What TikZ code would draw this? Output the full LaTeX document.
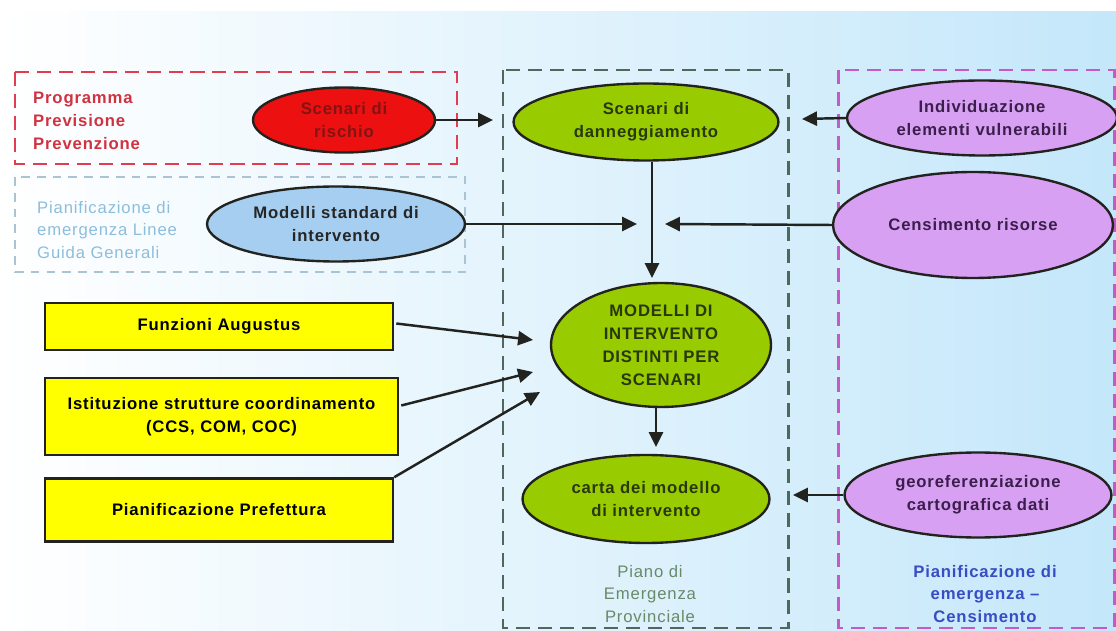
\documentclass[tikz,border=0pt]{standalone}
\usepackage{fontspec}
\setmainfont{Liberation Sans}[LetterSpace=5]
\usetikzlibrary{shapes.geometric,arrows.meta,calc}

\definecolor{bgblue}{RGB}{196,231,250}
\definecolor{redline}{RGB}{226,60,80}
\definecolor{redtext}{RGB}{208,50,64}
\definecolor{redfill}{RGB}{236,16,16}
\definecolor{redink}{RGB}{130,20,20}
\definecolor{paleline}{RGB}{170,196,212}
\definecolor{paletext}{RGB}{140,190,220}
\definecolor{skyfill}{RGB}{166,206,240}
\definecolor{greenline}{RGB}{80,104,92}
\definecolor{leaf}{RGB}{153,204,0}
\definecolor{leafink}{RGB}{40,56,10}
\definecolor{greytext}{RGB}{104,138,104}
\definecolor{violetline}{RGB}{196,90,200}
\definecolor{lilac}{RGB}{216,160,242}
\definecolor{lilacink}{RGB}{58,30,76}
\definecolor{bluetext}{RGB}{56,76,196}
\definecolor{lemon}{RGB}{255,255,0}
\definecolor{edge}{RGB}{34,34,30}

\begin{document}
\begin{tikzpicture}[x=0.02cm,y=-0.02cm,
  font=\bfseries\fontsize{9.5}{13}\selectfont,
  oval/.style={ellipse,draw=edge,line width=1.35pt,inner sep=0pt,align=center},
  panel/.style={rectangle,draw=edge,fill=lemon,line width=1.5pt,inner sep=0pt,align=center},
  framebox/.style={line width=1.7pt,dash pattern=on 8pt off 4.5pt},
  thinframe/.style={line width=0.9pt,dash pattern=on 5pt off 4pt},
  link/.style={draw=edge,line width=1.4pt,-{Triangle[length=8.5pt,width=8pt]}}]

\useasboundingbox (0,0) rectangle (1116,631);

% background wash
\fill[white] (0,0) rectangle (1116,631);
\shade[left color=white,right color=bgblue] (0,12) rectangle (1116,631);

% group frames
\draw[framebox,draw=redline] (15,72) rectangle (457,164);
\draw[thinframe,draw=paleline] (15,177) rectangle (465,272);
\draw[framebox,draw=greenline] (503,70) rectangle (788,628);
\draw[framebox,draw=violetline] (838,70) rectangle (1114,628);

% frame captions
\node[anchor=west,align=left,text=redtext] (progcap) at (27,121)
  {Programma\\Previsione\\Prevenzione};
\node[anchor=west,align=left,text=paletext,font=\mdseries\fontsize{9.5}{13}\selectfont] (linecap) at (31,230)
  {Pianificazione di\\emergenza Linee\\Guida Generali};
\node[align=center,text=greytext,font=\mdseries\fontsize{9.5}{13}\selectfont] (provcap) at (650,594)
  {Piano di\\Emergenza\\Provinciale};
\node[align=center,text=bluetext] (censcap) at (985,594)
  {Pianificazione di\\emergenza --\\Censimento};

% ellipses
\node[oval,fill=redfill,text=redink,minimum width=3.64cm,minimum height=1.3cm] (risk) at (344,120)
  {Scenari di\\rischio};
\node[oval,fill=skyfill,text=black!85,minimum width=5.16cm,minimum height=1.5cm] (std) at (336,224)
  {Modelli standard di\\intervento};
\node[oval,fill=leaf,text=leafink,minimum width=5.3cm,minimum height=1.54cm] (dmg) at (646,122)
  {Scenari di\\danneggiamento};
\node[oval,fill=leaf,text=leafink,minimum width=4.4cm,minimum height=2.48cm] (mod) at (661,345)
  {MODELLI DI\\INTERVENTO\\DISTINTI PER\\SCENARI};
\node[oval,fill=leaf,text=leafink,minimum width=4.94cm,minimum height=1.76cm] (map) at (646,499)
  {carta dei modello\\di intervento};
\node[oval,fill=lilac,text=lilacink,minimum width=5.4cm,minimum height=1.5cm] (vuln) at (982,118)
  {Individuazione\\elementi vulnerabili};
\node[oval,fill=lilac,text=lilacink,minimum width=5.6cm,minimum height=2.12cm] (cens) at (973,225)
  {Censimento risorse};
\node[oval,fill=lilac,text=lilacink,minimum width=5.34cm,minimum height=1.7cm] (geo) at (978,495)
  {georeferenziazione\\cartografica dati};

% yellow boxes
\node[panel,minimum width=6.96cm,minimum height=0.94cm] (aug) at (219,326.5)
  {Funzioni Augustus};
\node[panel,minimum width=7.06cm,minimum height=1.54cm] (coord) at (221.5,416.5)
  {Istituzione strutture coordinamento\\(CCS, COM, COC)};
\node[panel,minimum width=6.96cm,minimum height=1.26cm] (pref) at (219,510)
  {Pianificazione Prefettura};

% free arrow ends
\coordinate (riskEnd) at (493,120);
\coordinate (stdEnd) at (637,224);
\coordinate (dmgEnd) at (652,278);
\coordinate (censEnd) at (665,224);
\coordinate (vulnEnd) at (802,119);
\coordinate (modEnd) at (656,447);
\coordinate (geoEnd) at (793,495);
\coordinate (augEnd) at (533,340);
\coordinate (coordEnd) at (533,372);
\coordinate (prefEnd) at (540,392);

% connectors
\draw[link] (risk.east) -- (riskEnd);
\draw[link] (std.east) -- (stdEnd);
\draw[link] (dmg.south -| dmgEnd) -- (dmgEnd);
\draw[link] (cens.west) -- (censEnd);
\draw[link] (vuln.west) -- (vulnEnd);
\draw[link] (mod.south -| modEnd) -- (modEnd);
\draw[link] (geo.west) -- (geoEnd);
\draw[link] ($(aug.east)+(2,-3)$) -- (augEnd);
\draw[link] ($(coord.east)+(2,-11)$) -- (coordEnd);
\draw[link] (pref.north east) -- (prefEnd);

\end{tikzpicture}
\end{document}
